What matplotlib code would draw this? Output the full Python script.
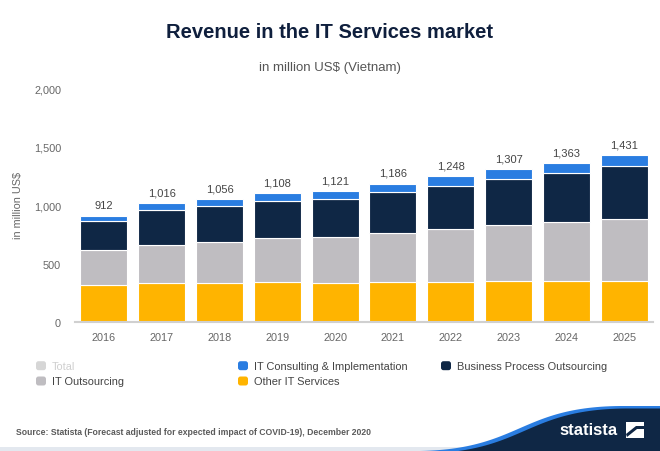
import matplotlib.pyplot as plt
import numpy as np
from matplotlib.patches import FancyBboxPatch, Polygon, Rectangle

plt.rcParams['font.family'] = ['Liberation Sans', 'DejaVu Sans']

years = ['2016', '2017', '2018', '2019', '2020', '2021', '2022', '2023', '2024', '2025']
other_it = [323, 332, 338, 346, 338, 346, 346, 351, 351, 351]
it_outsourcing = [292, 332, 349, 375, 388, 417, 448, 477, 506, 534]
bpo = [247, 292, 311, 320, 329, 354, 374, 397, 419, 454]
it_consulting = [50, 60, 58, 67, 66, 69, 80, 82, 87, 92]
totals = [912, 1016, 1056, 1108, 1121, 1186, 1248, 1307, 1363, 1431]

series = [
    ('Other IT Services', other_it, '#ffb400'),
    ('IT Outsourcing', it_outsourcing, '#bfbdc1'),
    ('Business Process Outsourcing', bpo, '#0f2745'),
    ('IT Consulting & Implementation', it_consulting, '#2a7de1'),
]

W, H = 660, 452
fig = plt.figure(figsize=(W / 100, H / 100), dpi=100)
ax = fig.add_axes([75 / W, 1 - 323.3 / H, 578 / W, 234 / H])

x = np.arange(len(years))
bottom = np.zeros(len(years))
for name, vals, col in series:
    ax.bar(x, vals, 0.81, bottom=bottom, color=col, edgecolor='white', linewidth=0.8, zorder=2)
    bottom += np.array(vals)

for xi, t in zip(x, totals):
    ax.annotate(f'{t:,}', (xi, t), xytext=(0, 4), textcoords='offset points',
                ha='center', va='bottom', fontsize=8, color='#444444')

ax.set_xlim(-0.5, len(years) - 0.5)
ax.set_ylim(0, 2000)
ax.set_yticks([0, 500, 1000, 1500, 2000])
ax.set_yticklabels(['0', '500', '1,000', '1,500', '2,000'])
ax.set_xticks(x)
ax.set_xticklabels(years)
ax.tick_params(length=0, labelsize=7.8, colors='#666666')
ax.tick_params(axis='y', pad=10)
ax.tick_params(axis='x', pad=7)
for s in ['top', 'right', 'left']:
    ax.spines[s].set_visible(False)
ax.spines['bottom'].set_color('#d0d0d0')
ax.spines['bottom'].set_linewidth(1.5)

fig.text(18 / W, 1 - 206 / H, 'in million US$', rotation=90, ha='center', va='center',
         fontsize=7.8, color='#666666')

fig.text(0.5, 1 - 32 / H, 'Revenue in the IT Services market', ha='center', va='center',
         fontsize=14.5, fontweight='bold', color='#0f1f3d')
fig.text(0.5, 1 - 68 / H, 'in million US$ (Vietnam)', ha='center', va='center',
         fontsize=9.5, color='#555555')

# legend, drawn by hand in pixel positions
legend_items = [
    ('Total', '#d6d6d6', '#cfcfcf', 41, 366.7),
    ('IT Consulting & Implementation', '#2a7de1', '#444444', 243, 366.7),
    ('Business Process Outsourcing', '#0f2745', '#444444', 446, 366.7),
    ('IT Outsourcing', '#bfbdc1', '#444444', 41, 382),
    ('Other IT Services', '#ffb400', '#444444', 243, 382),
]
tr = fig.dpi_scale_trans
for label, col, tcol, mx, my in legend_items:
    box = FancyBboxPatch(((mx - 5) / 100, (H - my - 4.5) / 100), 0.10, 0.09,
                         boxstyle='round,pad=0,rounding_size=0.025',
                         facecolor=col, edgecolor='none', transform=tr)
    fig.add_artist(box)
    fig.text((mx + 11) / W, 1 - my / H, label, ha='left', va='center',
             fontsize=7.9, color=tcol)

# footer
fig.add_artist(Rectangle((0, 0), W / 100, 4 / 100, facecolor='#e3e8ef',
                         edgecolor='none', transform=tr))
fig.text(16 / W, 1 - 433 / H, 'Source: Statista (Forecast adjusted for expected impact of COVID-19), December 2020',
         ha='left', va='center', fontsize=6.2, fontweight='bold', color='#5a5a5a')

t = np.linspace(0, 1, 60)
p0, p1, p2, p3 = np.array([420, 452]), np.array([520, 450]), np.array([520, 408]), np.array([620, 407])
curve = ((1 - t)[:, None] ** 3 * p0 + 3 * ((1 - t) ** 2 * t)[:, None] * p1
         + 3 * ((1 - t) * t ** 2)[:, None] * p2 + (t ** 3)[:, None] * p3)
top = np.vstack([curve, [[W, 407]]])
blue_pts = np.vstack([top, [[W, H], [420, H]]])
navy_pts = np.vstack([top + np.array([5, 2.5]), [[W, 409.5], [W, H], [425, H]]])
to_in = lambda pts: np.column_stack([pts[:, 0] / 100, (H - pts[:, 1]) / 100])
fig.add_artist(Polygon(to_in(blue_pts), closed=True, facecolor='#2a7de1', edgecolor='none', transform=tr))
fig.add_artist(Polygon(to_in(navy_pts), closed=True, facecolor='#0f2745', edgecolor='none', transform=tr))

fig.text(589 / W, 1 - 431 / H, 'statista', ha='center', va='center', fontsize=12,
         fontweight='bold', color='white')
fig.add_artist(Rectangle((626 / 100, (H - 439) / 100), 0.18, 0.16, facecolor='white',
                         edgecolor='none', transform=tr))
fig.add_artist(Polygon(to_in(np.array([[626, 435], [636, 427], [644, 427], [644, 430], [637, 430], [627, 438]])),
                       closed=True, facecolor='#0f2745', edgecolor='none', transform=tr))

fig.savefig('out.png', dpi=100, facecolor='white')
